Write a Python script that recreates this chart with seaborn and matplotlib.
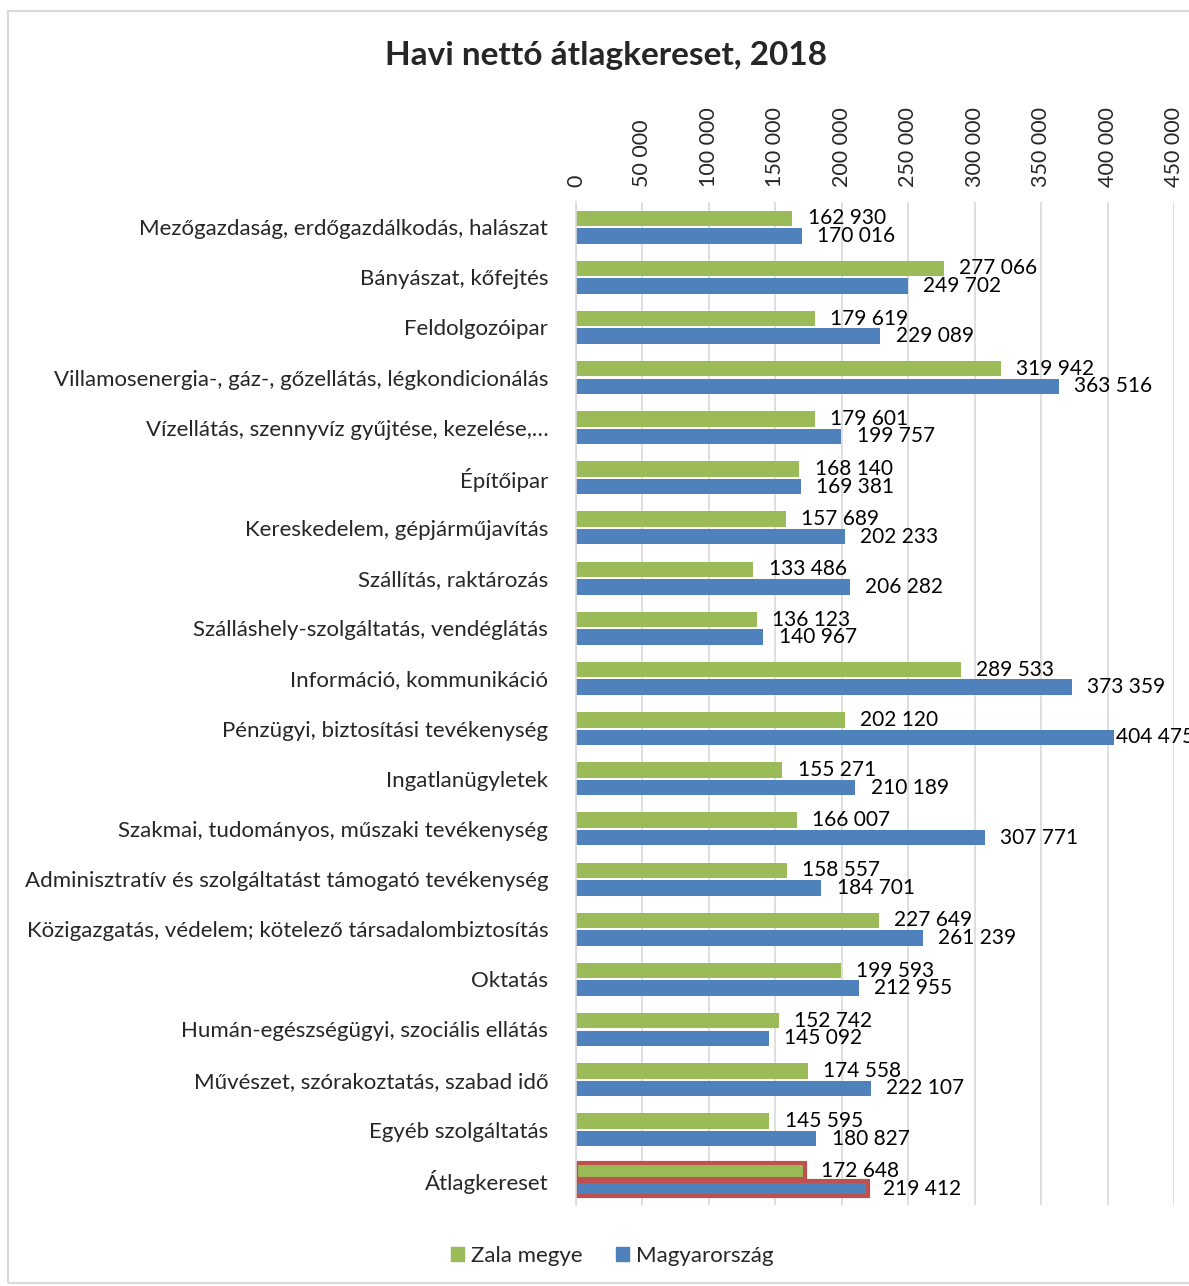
import pandas as pd
import matplotlib.pyplot as plt
import matplotlib.patches as mpatches
from matplotlib.ticker import FuncFormatter
import seaborn as sns

agazatok = [
    'Mezőgazdaság, erdőgazdálkodás, halászat',
    'Bányászat, kőfejtés',
    'Feldolgozóipar',
    'Villamosenergia-, gáz-, gőzellátás, légkondicionálás',
    'Vízellátás, szennyvíz gyűjtése, kezelése,…',
    'Építőipar',
    'Kereskedelem, gépjárműjavítás',
    'Szállítás, raktározás',
    'Szálláshely-szolgáltatás, vendéglátás',
    'Információ, kommunikáció',
    'Pénzügyi, biztosítási tevékenység',
    'Ingatlanügyletek',
    'Szakmai, tudományos, műszaki tevékenység',
    'Adminisztratív és szolgáltatást támogató tevékenység',
    'Közigazgatás, védelem; kötelező társadalombiztosítás',
    'Oktatás',
    'Humán-egészségügyi, szociális ellátás',
    'Művészet, szórakoztatás, szabad idő',
    'Egyéb szolgáltatás',
    'Átlagkereset',
]
zala = [162930, 277066, 179619, 319942, 179601, 168140, 157689, 133486, 136123, 289533,
        202120, 155271, 166007, 158557, 227649, 199593, 152742, 174558, 145595, 172648]
magyarorszag = [170016, 249702, 229089, 363516, 199757, 169381, 202233, 206282, 140967, 373359,
                404475, 210189, 307771, 184701, 261239, 212955, 145092, 222107, 180827, 219412]
sorozatok = ['Zala megye', 'Magyarország']
szinek = ['#9BBB59', '#4F81BD']

df = pd.DataFrame({'Ágazat': agazatok * 2,
                   'Kereset': zala + magyarorszag,
                   'Terület': [sorozatok[0]] * len(agazatok) + [sorozatok[1]] * len(agazatok)})

sns.set_theme(style='white')
plt.rcParams['font.family'] = ['Lato', 'DejaVu Sans']

def ezres(v):
    return f'{int(v):,}'.replace(',', ' ')

fig = plt.figure(figsize=(11.89, 12.86), dpi=100)
ax = fig.add_axes([0.4844, 0.063, 0.503, 0.7799])

sns.barplot(data=df, y='Ágazat', x='Kereset', hue='Terület', order=agazatok,
            hue_order=sorozatok, palette=szinek, orient='h', width=0.7, gap=0.12,
            saturation=1, edgecolor='none', ax=ax, legend=False)

for cont, ertekek in zip(ax.containers, [zala, magyarorszag]):
    for bar, v in zip(cont.patches, ertekek):
        # a tengely végén túllógó címkét az Excel közvetlenül a sáv mellé teszi
        pad = 2 if v > 400000 else 11
        ax.annotate(ezres(v), (bar.get_x() + bar.get_width(), bar.get_y() + bar.get_height() / 2),
                    xytext=(pad, 0), textcoords='offset points', ha='left', va='center',
                    fontsize=15, color='black', annotation_clip=False)
    cont.patches[-1].set_edgecolor('#C0504D')
    cont.patches[-1].set_linewidth(3)

ax.set_xlim(0, 450000)
ax.set_ylim(len(agazatok) - 0.5, -0.5)
ax.xaxis.tick_top()
ax.xaxis.set_major_formatter(FuncFormatter(lambda v, p: ezres(v)))
ax.set_xticks(range(0, 450001, 50000))
ax.tick_params(axis='x', labelrotation=90, labelsize=15.5, length=0, pad=11)
ax.tick_params(axis='y', labelsize=16, length=0, pad=20)
ax.set_xlabel('')
ax.set_ylabel('')
ax.grid(axis='x', color='#D9D9D9', linewidth=1.2)
ax.set_axisbelow(True)
for s in ['top', 'right', 'bottom']:
    ax.spines[s].set_visible(False)
ax.spines['left'].set_color('#D9D9D9')
ax.spines['left'].set_linewidth(1.2)

fig.text(606 / 1189, 1 - 55 / 1286, 'Havi nettó átlagkereset, 2018', ha='center', va='center',
         fontsize=24, fontweight='bold')

kezelok = [mpatches.Patch(color=c, label=l) for c, l in zip(szinek, sorozatok)]
fig.legend(handles=kezelok, loc='center', bbox_to_anchor=(612 / 1189, 1 - 1256 / 1286), ncol=2,
           frameon=False, fontsize=16, handlelength=0.6, handleheight=0.6, handletextpad=0.3,
           columnspacing=1.5)

fig.patches.append(mpatches.Rectangle((8 / 1189, 3 / 1286), 1.2, 1 - 14 / 1286, transform=fig.transFigure,
                                      fill=False, edgecolor='#D9D9D9', linewidth=1.5))

fig.savefig('out.png', dpi=100)
